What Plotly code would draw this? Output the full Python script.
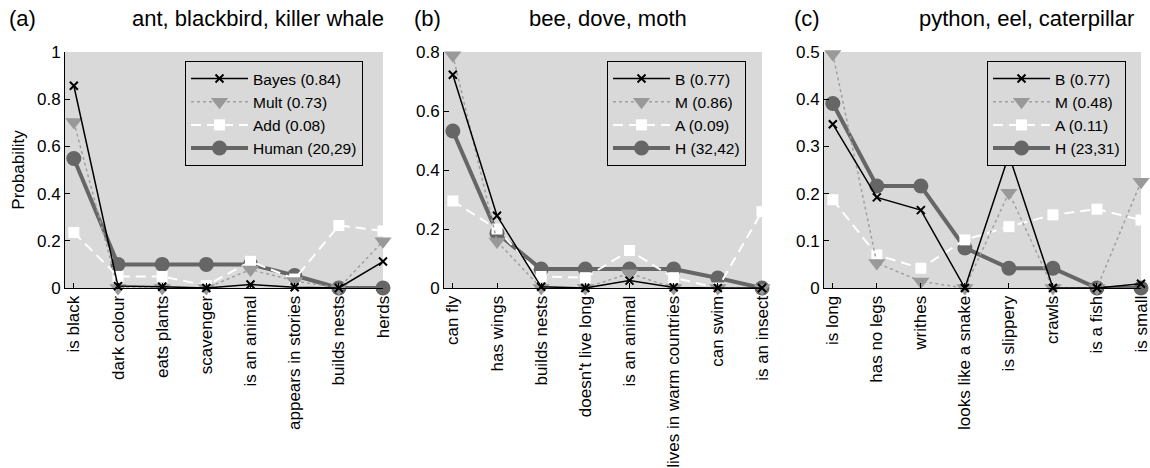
import plotly.graph_objects as go

# ---------------- data ----------------
cats_a = ["is black", "dark colour", "eats plants", "scavenger", "is an animal",
          "appears in stories", "builds nests", "herds"]
bayes_a = [0.857, 0.008, 0.005, 0.0, 0.015, 0.003, 0.0, 0.112]
mult_a = [0.703, 0.0, 0.0, 0.0, 0.078, 0.03, 0.0, 0.198]
add_a = [0.235, 0.049, 0.049, 0.01, 0.113, 0.038, 0.265, 0.242]
human_a = [0.549, 0.1, 0.1, 0.1, 0.1, 0.053, 0.0, 0.0]

cats_b = ["can fly", "has wings", "builds nests", "doesn't live long", "is an animal",
          "lives in warm countries", "can swim", "is an insect"]
bayes_b = [0.723, 0.245, 0.004, 0.0, 0.025, 0.002, 0.0, 0.0]
mult_b = [0.789, 0.158, 0.0, 0.0, 0.05, 0.0, 0.0, 0.0]
add_b = [0.295, 0.2, 0.039, 0.035, 0.127, 0.035, 0.0, 0.259]
human_b = [0.532, 0.186, 0.064, 0.064, 0.064, 0.064, 0.034, 0.0]

cats_c = ["is long", "has no legs", "writhes", "looks like a snake", "is slippery",
          "crawls", "is a fish", "is small"]
bayes_c = [0.347, 0.192, 0.165, 0.0, 0.282, 0.0, 0.0, 0.009]
mult_c = [0.496, 0.053, 0.014, 0.0, 0.202, 0.0, 0.0, 0.225]
add_c = [0.187, 0.07, 0.042, 0.102, 0.130, 0.155, 0.167, 0.144]
human_c = [0.391, 0.216, 0.216, 0.085, 0.042, 0.042, 0.0, 0.0]

names_a = ["Bayes (0.84)", "Mult (0.73)", "Add (0.08)", "Human (20,29)"]
names_b = ["B (0.77)", "M (0.86)", "A (0.09)", "H (32,42)"]
names_c = ["B (0.77)", "M (0.48)", "A (0.11)", "H (23,31)"]

titles = ["ant, blackbird, killer whale", "bee, dove, moth", "python, eel, caterpillar"]
panel_tags = ["(a)", "(b)", "(c)"]
y_max = [1.0, 0.8, 0.5]
y_dtick = [0.2, 0.2, 0.1]

# ---------------- layout constants ----------------
W, H = 1150, 468
FONT = "Liberation Sans, Arial, Helvetica, sans-serif"
BG = "#d9d9d9"
panels_px = [(65, 383), (444, 762), (824, 1141)]
ytop_px, ybot_px = 52, 288
legend_left_px = [185, 607, 987]
legend_top_px = 61
legend_entry_w = [118, 78, 78]
title_right_px = [386, 689, 1136]
tag_x_px = [7, 412, 792]
title_y_px = 19
TICK_FS = 17
LEG_FS = 15.5
TITLE_FS = 22


def px_x(p):
    return p / W


def px_y(p):
    return 1 - p / H


fig = go.Figure()

datasets = [
    (cats_a, bayes_a, mult_a, add_a, human_a, names_a),
    (cats_b, bayes_b, mult_b, add_b, human_b, names_b),
    (cats_c, bayes_c, mult_c, add_c, human_c, names_c),
]

for i, (cats, bayes, mult, add, human, names) in enumerate(datasets):
    xa = "x" if i == 0 else f"x{i+1}"
    ya = "y" if i == 0 else f"y{i+1}"
    lg = "legend" if i == 0 else f"legend{i+1}"
    common = dict(x=cats, xaxis=xa, yaxis=ya, legend=lg, mode="lines+markers",
                  cliponaxis=False)
    # draw order: Human, Add, Mult, Bayes (legend reversed)
    fig.add_trace(go.Scatter(y=human, name=names[3],
                             line=dict(color="#666666", width=4),
                             marker=dict(symbol="circle", size=15, color="#666666"),
                             **common))
    fig.add_trace(go.Scatter(y=add, name=names[2],
                             line=dict(color="white", width=2, dash="10px,6px"),
                             marker=dict(symbol="square", size=11, color="white"),
                             **common))
    fig.add_trace(go.Scatter(y=mult, name=names[1],
                             line=dict(color="#a0a0a0", width=1.5, dash="dot"),
                             marker=dict(symbol="triangle-down", size=15, color="#999999"),
                             **common))
    fig.add_trace(go.Scatter(y=bayes, name=names[0],
                             line=dict(color="black", width=1.5),
                             marker=dict(symbol="x-thin", size=8, color="black",
                                         line=dict(color="black", width=2)),
                             **common))

    x0, x1 = panels_px[i]
    xaxis = dict(domain=[px_x(x0), px_x(x1)], anchor=ya, type="category",
                 range=[-0.2, 7], tickangle=-90, ticks="inside", ticklen=5,
                 tickcolor="black", showline=True, linecolor="black", linewidth=1,
                 showgrid=False, zeroline=False, mirror=False, automargin=False,
                 tickfont=dict(family=FONT, size=TICK_FS, color="black"))
    yaxis = dict(domain=[px_y(ybot_px), px_y(ytop_px)], anchor=xa,
                 range=[0, y_max[i]], dtick=y_dtick[i], tick0=0,
                 ticks="inside", ticklen=5, tickcolor="black",
                 showline=True, linecolor="black", linewidth=1,
                 showgrid=False, zeroline=False, automargin=False,
                 tickfont=dict(family=FONT, size=TICK_FS, color="black"))
    if i == 0:
        yaxis["title"] = dict(text="Probability", standoff=8,
                              font=dict(family=FONT, size=TICK_FS, color="black"))
    fig.layout[f"xaxis{'' if i == 0 else i+1}"] = xaxis
    fig.layout[f"yaxis{'' if i == 0 else i+1}"] = yaxis

    fig.layout[lg] = dict(x=px_x(legend_left_px[i]), y=px_y(legend_top_px),
                          xanchor="left", yanchor="top", bgcolor=BG,
                          bordercolor="black", borderwidth=1,
                          traceorder="reversed", itemwidth=57, tracegroupgap=0,
                          entrywidth=legend_entry_w[i],
                          font=dict(family=FONT, size=LEG_FS, color="black"))

    fig.add_annotation(x=px_x(tag_x_px[i]), y=px_y(title_y_px), xref="paper", yref="paper",
                       text=panel_tags[i], showarrow=False, xanchor="left",
                       yanchor="middle", font=dict(family=FONT, size=TITLE_FS, color="black"))
    fig.add_annotation(x=px_x(title_right_px[i]), y=px_y(title_y_px), xref="paper", yref="paper",
                       text=titles[i], showarrow=False, xanchor="right",
                       yanchor="middle", font=dict(family=FONT, size=TITLE_FS, color="black"))

fig.update_layout(width=W, height=H, margin=dict(l=0, r=0, t=0, b=0, autoexpand=False),
                  plot_bgcolor=BG, paper_bgcolor="white", showlegend=True,
                  font=dict(family=FONT, size=TICK_FS, color="black"))

fig.write_html("out.html",
               config={"displayModeBar": False},
               post_script="document.body.style.margin='0';"
                           "document.body.style.overflow='hidden';")
